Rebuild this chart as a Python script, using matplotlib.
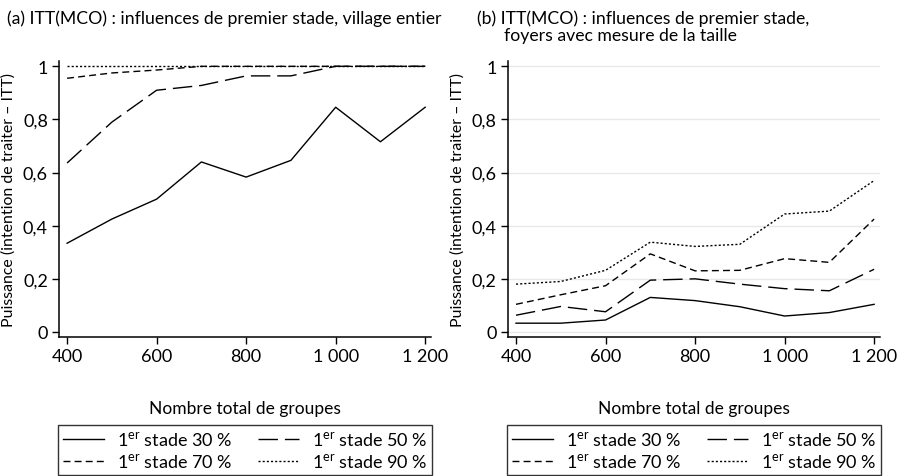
import matplotlib
matplotlib.use("Agg")
import matplotlib.pyplot as plt
from matplotlib.ticker import FuncFormatter

plt.rcParams["font.family"] = ["Lato", "DejaVu Sans"]
plt.rcParams["mathtext.fontset"] = "custom"
plt.rcParams["mathtext.rm"] = "Lato"

# Nombre total de groupes
groups = [400, 500, 600, 700, 800, 900, 1000, 1100, 1200]

# (a) village entier
village_30 = [0.334, 0.425, 0.50, 0.64, 0.583, 0.646, 0.846, 0.716, 0.846]
village_50 = [0.636, 0.79, 0.91, 0.928, 0.964, 0.964, 1.0, 1.0, 1.0]
village_70 = [0.955, 0.975, 0.986, 1.0, 1.0, 1.0, 1.0, 1.0, 1.0]
village_90 = [1.0, 1.0, 1.0, 1.0, 1.0, 1.0, 1.0, 1.0, 1.0]

# (b) foyers avec mesure de la taille
foyers_30 = [0.033, 0.033, 0.045, 0.13, 0.118, 0.095, 0.06, 0.073, 0.104]
foyers_50 = [0.063, 0.096, 0.076, 0.195, 0.20, 0.18, 0.163, 0.155, 0.236]
foyers_70 = [0.104, 0.14, 0.174, 0.294, 0.23, 0.232, 0.276, 0.262, 0.425]
foyers_90 = [0.18, 0.19, 0.232, 0.338, 0.322, 0.33, 0.444, 0.455, 0.57]

stages = ["30", "50", "70", "90"]
dash_styles = ["-", (0, (14, 5)), (0, (5, 3)), (0, (1.5, 1.5))]

yticks = [0, 0.2, 0.4, 0.6, 0.8, 1.0]
xticks = [400, 600, 800, 1000, 1200]


def fr_num(v, pos=None):
    if v == int(v):
        return f"{int(v):,}".replace(",", " ")
    return f"{v:.1f}".replace(".", ",")


fig = plt.figure(figsize=(9.0, 4.77), dpi=100)
ax_a = fig.add_axes([0.0656, 0.2914, 0.4133, 0.5786])
ax_b = fig.add_axes([0.5644, 0.2914, 0.4133, 0.5786])

panels = [
    (ax_a, [village_30, village_50, village_70, village_90], False),
    (ax_b, [foyers_30, foyers_50, foyers_70, foyers_90], True),
]

for ax, series, grid in panels:
    lines = []
    for vals, stage, ls in zip(series, stages, dash_styles):
        ln, = ax.plot(groups, vals, color="black", linewidth=1.0, linestyle=ls,
                      label=r"1$^{\mathrm{er}}$ stade " + stage + " %")
        lines.append(ln)
    ax.set_xlim(382, 1213)
    ax.set_ylim(-0.019, 1.02)
    ax.set_xticks(xticks)
    ax.set_yticks(yticks)
    ax.xaxis.set_major_formatter(FuncFormatter(fr_num))
    ax.yaxis.set_major_formatter(FuncFormatter(fr_num))
    ax.tick_params(direction="out", length=5, width=1, labelsize=13, pad=3)
    for side in ["top", "right"]:
        ax.spines[side].set_visible(False)
    for side in ["left", "bottom"]:
        ax.spines[side].set_linewidth(1.1)
    if grid:
        ax.grid(axis="y", color="#e8e8e8", linewidth=1)
        ax.set_axisbelow(True)
    ax.set_ylabel("Puissance (intention de traiter – ITT)", fontsize=11.4, labelpad=5)
    ax.set_xlabel("Nombre total de groupes", fontsize=12.5, labelpad=26)
    # row-wise order: 30 / 50 on top, 70 / 90 below
    order = [0, 2, 1, 3]
    leg = ax.legend([lines[i] for i in order], [lines[i].get_label() for i in order],
                    loc="upper center", bbox_to_anchor=(0.5, -0.318), ncol=2,
                    frameon=True, fancybox=False, edgecolor="black",
                    fontsize=13, handlelength=2.3, handletextpad=0.7,
                    columnspacing=1.4, borderpad=0.25, labelspacing=0.2,
                    borderaxespad=0)
    leg.get_frame().set_linewidth(1.0)

fig.text(0.008, 0.978, "(a) ITT(MCO) : influences de premier stade, village entier",
         fontsize=12.7, va="top", ha="left")
fig.text(0.530, 0.978, "(b) ITT(MCO) : influences de premier stade,\n"
         "      foyers avec mesure de la taille",
         fontsize=12.7, va="top", ha="left", linespacing=1.1)

fig.savefig("out.png", dpi=100)
